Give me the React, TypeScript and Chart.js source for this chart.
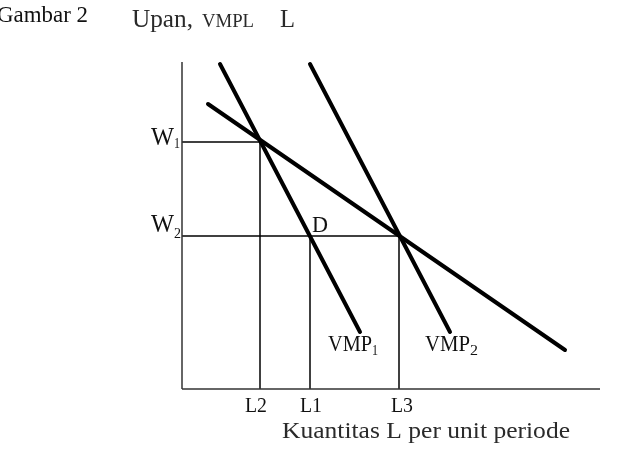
import React, { useEffect, useRef } from "react";
import { Chart, registerables } from "chart.js";

Chart.register(...registerables);

// Data (axis units; origin at the axes' corner)
const X_MAX = 418;
const Y_MAX = 327;

const W1 = 247;
const W2 = 153;
const L2 = 78;
const L1 = 128;
const L3 = 217;

const vmp1Line = [
  { x: 38, y: 325 },
  { x: 178, y: 57 },
];
const vmp2Line = [
  { x: 128, y: 325 },
  { x: 268, y: 57 },
];
const demandLine = [
  { x: 26, y: 285 },
  { x: 383, y: 39 },
];

const xAxisLine = [
  { x: 0, y: 0 },
  { x: X_MAX, y: 0 },
];
const yAxisLine = [
  { x: 0, y: 0 },
  { x: 0, y: Y_MAX },
];

const guideW1 = [
  { x: 0, y: W1 },
  { x: L2, y: W1 },
];
const guideL2 = [
  { x: L2, y: 0 },
  { x: L2, y: W1 },
];
const guideW2 = [
  { x: 0, y: W2 },
  { x: L3, y: W2 },
];
const guideL1 = [
  { x: L1, y: 0 },
  { x: L1, y: W2 },
];
const guideL3 = [
  { x: L3, y: 0 },
  { x: L3, y: W2 },
];

const xTickLabels = [
  { v: L2, t: "L2" },
  { v: L1, t: "L1" },
  { v: L3, t: "L3" },
];

const FONT = '"Liberation Serif", "Times New Roman", serif';

function drawText(
  ctx: CanvasRenderingContext2D,
  s: string,
  x: number,
  y: number,
  size: number,
  opts: { align?: "left" | "center" | "right"; width?: number; color?: string } = {}
) {
  ctx.save();
  ctx.font = `${size}px ${FONT}`;
  ctx.fillStyle = opts.color || "#111";
  ctx.textBaseline = "alphabetic";
  ctx.textAlign = "left";
  const w = ctx.measureText(s).width;
  const sx = opts.width ? opts.width / w : 1;
  const fw = w * sx;
  let left = x;
  if (opts.align === "center") left = x - fw / 2;
  else if (opts.align === "right") left = x - fw;
  ctx.translate(left, y);
  ctx.scale(sx, 1);
  ctx.fillText(s, 0, 0);
  ctx.restore();
}

const labelPlugin = {
  id: "labels",
  afterDatasetsDraw(chart: any) {
    const ctx: CanvasRenderingContext2D = chart.ctx;
    const xs = chart.scales.x;
    const ys = chart.scales.y;
    const x0 = xs.getPixelForValue(0);
    const y0 = ys.getPixelForValue(0);

    // Titles
    drawText(ctx, "Gambar 2", -3, 22, 23, { width: 91 });
    drawText(ctx, "Upan,", 132, 27, 25, { width: 61, color: "#2a2a2a" });
    drawText(ctx, "VMPL", 202, 27, 18, { width: 52, color: "#2a2a2a" });
    drawText(ctx, "L", 280, 27, 25, { width: 15, color: "#2a2a2a" });

    // W labels
    const yW1 = ys.getPixelForValue(W1);
    const yW2 = ys.getPixelForValue(W2);
    drawText(ctx, "W", x0 - 8, yW1 + 3, 26, { align: "right", width: 23 });
    drawText(ctx, "1", x0 - 8, yW1 + 6, 15, { width: 6 });
    drawText(ctx, "W", x0 - 8, yW2 - 4, 26, { align: "right", width: 23 });
    drawText(ctx, "2", x0 - 8, yW2 + 2, 15, { width: 7 });

    // D
    drawText(ctx, "D", xs.getPixelForValue(L1) + 2, yW2 - 4, 23, { width: 16 });

    // VMP labels
    const vy = ys.getPixelForValue(vmp1Line[1].y) + 19;
    const v1x = xs.getPixelForValue(vmp1Line[1].x) - 32;
    drawText(ctx, "VMP", v1x, vy, 23, { width: 44 });
    drawText(ctx, "1", v1x + 44, vy + 4, 15, { width: 6 });
    const v2x = xs.getPixelForValue(vmp2Line[1].x) - 25;
    drawText(ctx, "VMP", v2x, vy, 23, { width: 45 });
    drawText(ctx, "2", v2x + 45, vy + 4, 15, { width: 8 });

    // L tick labels
    const offs: Record<string, number> = { L2: -4, L1: 1, L3: 3 };
    for (const tl of xTickLabels) {
      drawText(ctx, tl.t, xs.getPixelForValue(tl.v) + offs[tl.t], y0 + 23, 21, {
        align: "center",
        width: 22,
      });
    }

    // X axis title
    drawText(ctx, "Kuantitas L per unit periode", 282, y0 + 49, 23, {
      width: 288,
      color: "#2a2a2a",
    });
  },
};

function lineDs(data: { x: number; y: number }[], width: number, color = "#000") {
  return {
    data,
    borderColor: color,
    backgroundColor: color,
    borderWidth: width,
    pointRadius: 0,
    showLine: true,
    fill: false,
    tension: 0,
    clip: false as any,
    borderCapStyle: width > 2 ? ("round" as const) : ("butt" as const),
  };
}

export default function App() {
  const ref = useRef<HTMLCanvasElement | null>(null);
  useEffect(() => {
    if (!ref.current) return;
    const chart = new Chart(ref.current, {
      type: "line",
      data: {
        datasets: [
          lineDs(xAxisLine, 1.5, "#333"),
          lineDs(yAxisLine, 1.5, "#333"),
          lineDs(guideW1, 1.5),
          lineDs(guideL2, 1.5),
          lineDs(guideW2, 1.5),
          lineDs(guideL1, 1.5),
          lineDs(guideL3, 1.5),
          lineDs(vmp1Line, 4),
          lineDs(vmp2Line, 4),
          lineDs(demandLine, 4),
        ] as any,
      },
      options: {
        responsive: false,
        animation: false,
        parsing: false as any,
        layout: { padding: { left: 182, right: 28, top: 62, bottom: 61 } },
        plugins: {
          legend: { display: false },
          tooltip: { enabled: false },
          title: { display: false },
        },
        events: [],
        scales: {
          x: { type: "linear", min: 0, max: X_MAX, display: false },
          y: { type: "linear", min: 0, max: Y_MAX, display: false },
        },
      },
      plugins: [labelPlugin],
    });
    return () => chart.destroy();
  }, []);
  return (
    <div style={{ position: "absolute", left: 0, top: 0, width: 628, height: 450, background: "#fff" }}>
      <canvas ref={ref} width={628} height={450} style={{ display: "block" }} />
    </div>
  );
}
